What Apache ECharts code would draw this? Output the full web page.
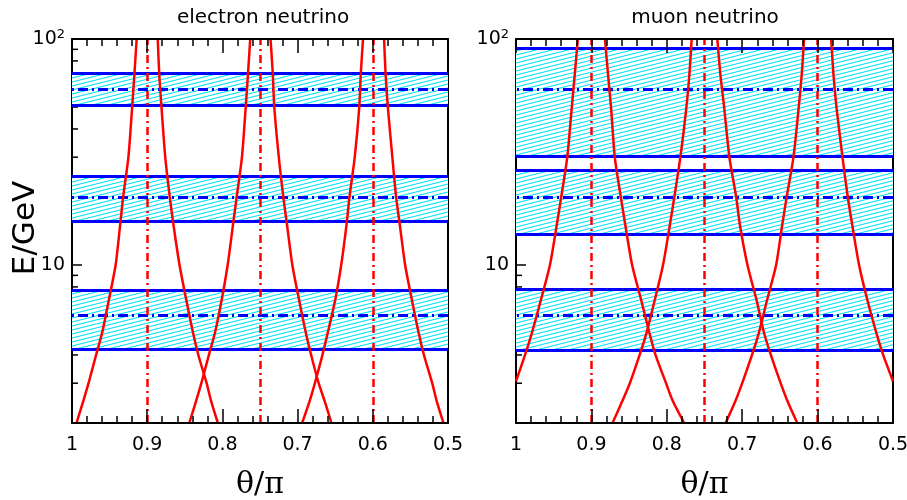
<!DOCTYPE html>
<html>
<head>
<meta charset="utf-8">
<script src="https://cdn.jsdelivr.net/npm/echarts@6/dist/echarts.min.js"></script>
<style>
  html, body { margin: 0; padding: 0; background: #fff; }
  #chart { width: 907px; height: 500px; }
</style>
</head>
<body>
<div id="chart"></div>
<script>
const energies = [100, 70, 50, 30, 20, 15, 10, 7, 5, 4, 3, 2.5, 2];
// muon curves that run into the frame before reaching the bottom
const energiesShort = [100, 70, 50, 30, 20, 15, 10, 7, 5, 4, 3.06];

// theta/pi of the red curves, electron neutrino
const eCurve1L = [0.914, 0.917, 0.920, 0.925, 0.932, 0.936, 0.942, 0.951, 0.960, 0.968, 0.978, 0.985, 0.994];
const eCurve1R = [0.886, 0.884, 0.881, 0.876, 0.870, 0.865, 0.857, 0.848, 0.839, 0.832, 0.821, 0.815, 0.806];
const eCurve2L = [0.763, 0.766, 0.769, 0.774, 0.781, 0.786, 0.793, 0.801, 0.810, 0.818, 0.828, 0.835, 0.844];
const eCurve2R = [0.736, 0.733, 0.731, 0.725, 0.719, 0.714, 0.707, 0.698, 0.689, 0.682, 0.672, 0.664, 0.655];
const eCurve3L = [0.613, 0.616, 0.618, 0.624, 0.631, 0.635, 0.642, 0.650, 0.660, 0.667, 0.677, 0.684, 0.694];
const eCurve3R = [0.585, 0.583, 0.580, 0.574, 0.569, 0.564, 0.557, 0.548, 0.539, 0.532, 0.521, 0.515, 0.506];

// theta/pi of the red curves, muon neutrino
const mCurve1L = [0.918, 0.922, 0.926, 0.932, 0.940, 0.946, 0.955, 0.967, 0.979, 0.988, 1.0];
const mCurve1R = [0.882, 0.878, 0.874, 0.869, 0.861, 0.855, 0.846, 0.834, 0.823, 0.815, 0.801, 0.792, 0.777];
const mCurve2L = [0.767, 0.770, 0.774, 0.782, 0.790, 0.796, 0.805, 0.816, 0.827, 0.836, 0.849, 0.859, 0.872];
const mCurve2R = [0.733, 0.729, 0.724, 0.717, 0.708, 0.703, 0.693, 0.681, 0.671, 0.662, 0.649, 0.640, 0.627];
const mCurve3L = [0.618, 0.621, 0.625, 0.632, 0.641, 0.647, 0.655, 0.667, 0.678, 0.687, 0.700, 0.709, 0.722];
const mCurve3R = [0.582, 0.579, 0.575, 0.567, 0.560, 0.554, 0.545, 0.534, 0.522, 0.513, 0.5];

// red dash-dot verticals
const dipAngles = [0.9, 0.75, 0.6];

// energy bands (GeV)
const eBandLow = [50.7, 15.6, 4.26];
const eBandHigh = [70.7, 24.7, 7.72];
const eBandCenter = [60, 20, 6];
const mBandLow = [30.2, 13.7, 4.19];
const mBandHigh = [90.6, 26.3, 7.8];
const mBandCenter = [60, 20, 6];

// minor ticks on the energy axis
const yMinorTicks = [3, 4, 5, 6, 7, 8, 9, 20, 30, 40, 50, 60, 70, 80, 90];

// cyan hatch pattern for the bands
function makeHatch() {
    const w = 16, h = 4;
    const c = document.createElement('canvas');
    c.width = w;
    c.height = h;
    const ctx = c.getContext('2d');
    ctx.fillStyle = '#ffffff';
    ctx.fillRect(0, 0, w, h);
    ctx.strokeStyle = '#00e2f4';
    ctx.lineWidth = 1.1;
    for (let k = -1; k <= 1; k++) {
        ctx.beginPath();
        ctx.moveTo(0, h + k * h);
        ctx.lineTo(w, k * h);
        ctx.stroke();
    }
    return { image: c, repeat: 'repeat' };
}
const hatch = makeHatch();

const toPoints = (thetas, es) => thetas.map((t, i) => [t, es[i]]);

function xAxisCfg(gridIndex, position, showLabels, name) {
    return {
        type: 'value', gridIndex, position,
        min: 0.5, max: 1, interval: 0.1, inverse: true, z: 10,
        axisLine: { show: true, onZero: false, lineStyle: { color: '#000', width: 2 } },
        axisTick: { show: true, inside: true, length: 14, lineStyle: { color: '#000', width: 1.5 } },
        minorTick: { show: true, splitNumber: 5, length: 7, lineStyle: { color: '#000', width: 1.5 } },
        splitLine: { show: false },
        axisLabel: { show: showLabels, margin: 13, color: '#000', fontFamily: 'DejaVu Sans', fontSize: 19 },
        name: name || '', nameLocation: 'middle', nameGap: 47,
        nameTextStyle: { fontFamily: 'DejaVu Serif', fontSize: 30, color: '#000' }
    };
}

function yAxisCfg(gridIndex, position, showLabels) {
    return {
        type: 'log', logBase: 10, gridIndex, position, min: 2, max: 100,
        axisLine: { show: true, onZero: false, lineStyle: { color: '#000', width: 2 } },
        axisTick: { show: showLabels, inside: true, length: 10, lineStyle: { color: '#000', width: 1.5 } },
        splitLine: { show: false },
        axisLabel: {
            show: showLabels, margin: 7, color: '#000', fontFamily: 'DejaVu Sans', fontSize: 19,
            formatter: v => Math.abs(v - 100) < 1e-6 ? '{b|10}{s|2}' : (Math.abs(v - 10) < 1e-6 ? '{b|10}' : ''),
            rich: {
                b: { fontFamily: 'DejaVu Sans', fontSize: 19, color: '#000' },
                s: { fontFamily: 'DejaVu Sans', fontSize: 13, color: '#000', padding: [0, 0, 9, 0] }
            }
        }
    };
}

function curveSeries(points, xi, yi) {
    return {
        type: 'line', xAxisIndex: xi, yAxisIndex: yi, data: points,
        symbol: 'none', smooth: 0.25, silent: true, z: 6,
        lineStyle: { color: '#ff0000', width: 2.5 }
    };
}

function bandSeries(lows, highs, centers, xi, yi) {
    const solid = { color: '#0000ff', width: 3, type: 'solid' };
    const dashDot = { color: '#0000ff', width: 3, type: [10, 4, 2, 4] };
    return {
        type: 'line', xAxisIndex: xi, yAxisIndex: yi, data: [], z: 1, silent: true,
        markArea: {
            silent: true, z: 1,
            itemStyle: { color: hatch, opacity: 1, borderWidth: 0 },
            data: lows.map((lo, i) => [{ yAxis: lo }, { yAxis: highs[i] }])
        },
        markLine: {
            silent: true, z: 4, symbol: ['none', 'none'], label: { show: false },
            lineStyle: solid,
            data: lows.concat(highs).map(v => ({ yAxis: v, lineStyle: solid }))
                .concat(centers.map(v => ({ yAxis: v, lineStyle: dashDot })))
        }
    };
}

function verticalSeries(xi, yi) {
    return {
        type: 'line', xAxisIndex: xi, yAxisIndex: yi, data: [], silent: true,
        markLine: {
            silent: true, z: 5, symbol: ['none', 'none'], label: { show: false },
            lineStyle: { color: '#ff0000', width: 2.5, type: [8, 4, 2, 4] },
            data: dipAngles.map(v => ({ xAxis: v }))
        }
    };
}

function yTickSeries(xi, yi) {
    return {
        type: 'custom', xAxisIndex: xi, yAxisIndex: yi, z: 0, silent: true,
        data: yMinorTicks.map(v => [1, v]),
        renderItem: (params, api) => {
            const p = api.coord([api.value(0), api.value(1)]);
            return {
                type: 'line',
                shape: { x1: p[0], y1: p[1], x2: p[0] + 6, y2: p[1] },
                style: { stroke: '#000', lineWidth: 1.5 }
            };
        }
    };
}

const chart = echarts.init(document.getElementById('chart'));

const titleStyle = { fontFamily: 'DejaVu Sans', fontSize: 20, fontWeight: 'normal', color: '#000' };

chart.setOption({
    backgroundColor: '#fff',
    animation: false,
    title: [
        { text: 'electron neutrino', left: 258, top: 3, textAlign: 'center', textStyle: titleStyle },
        { text: 'muon neutrino', left: 700, top: 3, textAlign: 'center', textStyle: titleStyle }
    ],
    // y axis title, placed by hand left of the first panel
    graphic: [{
        type: 'text', x: 26, y: 228, rotation: Math.PI / 2, silent: true,
        style: {
            text: 'E/GeV', fill: '#000', font: '31px "DejaVu Sans"',
            textAlign: 'center', textVerticalAlign: 'middle'
        }
    }],
    grid: [
        { left: 72, top: 39, width: 376, height: 384, outerBoundsMode: 'none', containLabel: false },
        { left: 516, top: 39, width: 377, height: 384, outerBoundsMode: 'none', containLabel: false }
    ],
    xAxis: [
        xAxisCfg(0, 'bottom', true, 'θ/π'),
        xAxisCfg(0, 'top', false),
        xAxisCfg(1, 'bottom', true, 'θ/π'),
        xAxisCfg(1, 'top', false)
    ],
    yAxis: [
        yAxisCfg(0, 'left', true),
        yAxisCfg(0, 'right', false),
        yAxisCfg(1, 'left', true),
        yAxisCfg(1, 'right', false)
    ],
    series: [
        yTickSeries(0, 0),
        bandSeries(eBandLow, eBandHigh, eBandCenter, 0, 0),
        verticalSeries(0, 0),
        curveSeries(toPoints(eCurve1L, energies), 0, 0),
        curveSeries(toPoints(eCurve1R, energies), 0, 0),
        curveSeries(toPoints(eCurve2L, energies), 0, 0),
        curveSeries(toPoints(eCurve2R, energies), 0, 0),
        curveSeries(toPoints(eCurve3L, energies), 0, 0),
        curveSeries(toPoints(eCurve3R, energies), 0, 0),

        yTickSeries(2, 2),
        bandSeries(mBandLow, mBandHigh, mBandCenter, 2, 2),
        verticalSeries(2, 2),
        curveSeries(toPoints(mCurve1L, energiesShort), 2, 2),
        curveSeries(toPoints(mCurve1R, energies), 2, 2),
        curveSeries(toPoints(mCurve2L, energies), 2, 2),
        curveSeries(toPoints(mCurve2R, energies), 2, 2),
        curveSeries(toPoints(mCurve3L, energies), 2, 2),
        curveSeries(toPoints(mCurve3R, energiesShort), 2, 2)
    ]
});
</script>
</body>
</html>
